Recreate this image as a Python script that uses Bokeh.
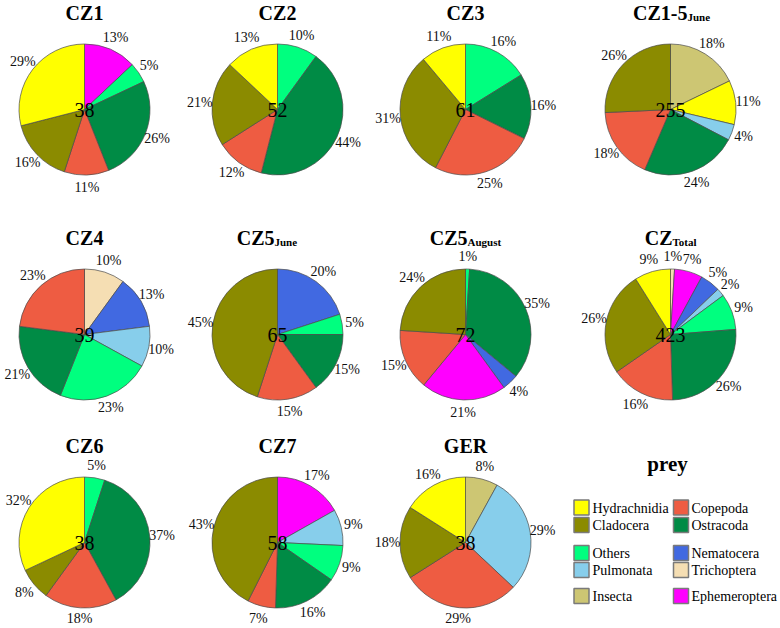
import math
from bokeh.plotting import figure
from bokeh.models import Range1d, ColumnDataSource
from bokeh.core.properties import value
from bokeh.embed import file_html
from bokeh.resources import INLINE

# ---------------- data ----------------
prey = ["Hydrachnidia", "Copepoda", "Cladocera", "Ostracoda", "Others",
        "Nematocera", "Pulmonata", "Trichoptera", "Insecta", "Ephemeroptera"]
prey_colors = ["#FFFF00", "#EE5C42", "#8B8B00", "#008B45", "#00FF7F",
               "#4169E1", "#87CEEB", "#F5DEB3", "#CDC673", "#FF00FF"]

# slices listed clockwise from 12 o'clock
cz1_prey = ["Ephemeroptera", "Others", "Ostracoda", "Copepoda", "Cladocera", "Hydrachnidia"]
cz1_pct = [13, 5, 26, 11, 16, 29]
cz2_prey = ["Others", "Ostracoda", "Copepoda", "Cladocera", "Hydrachnidia"]
cz2_pct = [10, 44, 12, 21, 13]
cz3_prey = ["Others", "Ostracoda", "Copepoda", "Cladocera", "Hydrachnidia"]
cz3_pct = [16, 16, 25, 31, 11]
cz15june_prey = ["Insecta", "Hydrachnidia", "Pulmonata", "Ostracoda", "Copepoda", "Cladocera"]
cz15june_pct = [18, 11, 4, 24, 18, 26]
cz4_prey = ["Trichoptera", "Nematocera", "Pulmonata", "Others", "Ostracoda", "Copepoda"]
cz4_pct = [10, 13, 10, 23, 21, 23]
cz5june_prey = ["Nematocera", "Others", "Ostracoda", "Copepoda", "Cladocera"]
cz5june_pct = [20, 5, 15, 15, 45]
cz5aug_prey = ["Others", "Ostracoda", "Nematocera", "Ephemeroptera", "Copepoda", "Cladocera"]
cz5aug_pct = [1, 35, 4, 21, 15, 24]
cztotal_prey = ["Trichoptera", "Ephemeroptera", "Nematocera", "Pulmonata", "Others",
                "Ostracoda", "Copepoda", "Cladocera", "Hydrachnidia"]
cztotal_pct = [1, 7, 5, 2, 9, 26, 16, 26, 9]
cz6_prey = ["Others", "Ostracoda", "Copepoda", "Cladocera", "Hydrachnidia"]
cz6_pct = [5, 37, 18, 8, 32]
cz7_prey = ["Ephemeroptera", "Pulmonata", "Others", "Ostracoda", "Copepoda", "Cladocera"]
cz7_pct = [17, 9, 9, 16, 7, 43]
ger_prey = ["Insecta", "Pulmonata", "Copepoda", "Cladocera", "Hydrachnidia"]
ger_pct = [8, 29, 29, 18, 16]

titles = ["CZ1", "CZ2", "CZ3", "CZ1-5", "CZ4", "CZ5", "CZ5", "CZ", "CZ6", "CZ7", "GER"]
subtitles = ["", "", "", "June", "", "June", "August", "Total", "", "", ""]
counts = [38, 52, 61, 255, 39, 65, 72, 423, 38, 58, 38]
panel_prey = [cz1_prey, cz2_prey, cz3_prey, cz15june_prey, cz4_prey, cz5june_prey,
              cz5aug_prey, cztotal_prey, cz6_prey, cz7_prey, ger_prey]
panel_pct = [cz1_pct, cz2_pct, cz3_pct, cz15june_pct, cz4_pct, cz5june_pct,
             cz5aug_pct, cztotal_pct, cz6_pct, cz7_pct, ger_pct]

legend_title = "prey"

# ---------------- layout ----------------
W, H = 780, 628
FONT = value("Liberation Serif")
col_x = [84, 277, 465, 670]
row_y = [109, 334, 542]
R = 65.5
LABEL_R = 78
sub_split = {3: 17, 5: -3, 6: 2, 7: 2}  # x offset of main/sub boundary from pie centre

p = figure(width=W, height=H, x_range=Range1d(0, W), y_range=Range1d(-H, 0),
           output_backend="svg", toolbar_location=None,
           x_axis_location=None, y_axis_location=None, min_border=0)
p.grid.visible = False
p.outline_line_color = None
p.background_fill_color = "white"
p.border_fill_color = "white"

color_of = dict(zip(prey, prey_colors))

wx, wy, ws, we, wc = [], [], [], [], []
lx, ly, lt = [], [], []
cx_l, cy_l, ct = [], [], []
tx, ty, tt = [], [], []
mx, my, mt, sx, sy, st = [], [], [], [], [], []

for i in range(len(titles)):
    cx = col_x[i % 4]
    cy = row_y[i // 4]
    vals = panel_pct[i]
    tot = float(sum(vals))
    c0 = 0.0
    for name, v in zip(panel_prey[i], vals):
        c1 = c0 + v / tot
        wx.append(cx)
        wy.append(-cy)
        ws.append(math.pi / 2 - 2 * math.pi * c0)
        we.append(math.pi / 2 - 2 * math.pi * c1)
        wc.append(color_of[name])
        mid = math.pi / 2 - 2 * math.pi * (c0 + c1) / 2
        x = cx + LABEL_R * math.cos(mid)
        x = min(max(x, 14), W - 14)
        y = -cy + LABEL_R * math.sin(mid)
        y = max(y, -(H - 10))
        lx.append(x)
        ly.append(y)
        lt.append(f"{v}%")
        c0 = c1
    cx_l.append(cx)
    cy_l.append(-cy)
    ct.append(str(counts[i]))
    tmid = -(cy - 96.5)
    if subtitles[i]:
        b = cx + sub_split[i]
        mx.append(b); my.append(tmid); mt.append(titles[i])
        sx.append(b); sy.append(tmid - 3.5); st.append(subtitles[i])
    else:
        tx.append(cx); ty.append(tmid); tt.append(titles[i])

p.wedge(x="x", y="y", radius=R, start_angle="s", end_angle="e", direction="clock",
        fill_color="c", line_color="#4a4a4a", line_width=0.7,
        source=ColumnDataSource(dict(x=wx, y=wy, s=ws, e=we, c=wc)))

p.text(x="x", y="y", text="t", source=ColumnDataSource(dict(x=lx, y=ly, t=lt)),
       text_font=FONT, text_font_size="14px", text_color="#111111",
       text_align="center", text_baseline="middle")

p.text(x="x", y="y", text="t", source=ColumnDataSource(dict(x=cx_l, y=cy_l, t=ct)),
       text_font=FONT, text_font_size="20px", text_color="black",
       text_align="center", text_baseline="middle")

p.text(x="x", y="y", text="t", source=ColumnDataSource(dict(x=tx, y=ty, t=tt)),
       text_font=FONT, text_font_size="20px", text_font_style="bold", text_color="black",
       text_align="center", text_baseline="middle")
p.text(x="x", y="y", text="t", source=ColumnDataSource(dict(x=mx, y=my, t=mt)),
       text_font=FONT, text_font_size="20px", text_font_style="bold", text_color="black",
       text_align="right", text_baseline="middle")
p.text(x="x", y="y", text="t", source=ColumnDataSource(dict(x=sx, y=sy, t=st)),
       text_font=FONT, text_font_size="11px", text_font_style="bold", text_color="black",
       text_align="left", text_baseline="middle")

# ---------------- legend ----------------
leg_col_box = [581, 680.5]
leg_col_txt = [592, 691]
leg_rows = [507, 524.5, 552.5, 569.5, 595.5]
bx, by, bc, ltx, lty, ltt = [], [], [], [], [], []
for k, (name, col) in enumerate(zip(prey, prey_colors)):
    r, c = k // 2, k % 2
    bx.append(leg_col_box[c]); by.append(-leg_rows[r]); bc.append(col)
    ltx.append(leg_col_txt[c]); lty.append(-leg_rows[r] - 0.5); ltt.append(name)
p.rect(x="x", y="y", width=15, height=15, fill_color="c", line_color="#7a7a7a", line_width=1.5,
       source=ColumnDataSource(dict(x=bx, y=by, c=bc)))
p.text(x="x", y="y", text="t", source=ColumnDataSource(dict(x=ltx, y=lty, t=ltt)),
       text_font=FONT, text_font_size="14px", text_color="black",
       text_align="left", text_baseline="middle")
p.text(x=[667], y=[-463], text=[legend_title], text_font=FONT, text_font_size="21px",
       text_font_style="bold", text_color="black", text_align="center", text_baseline="middle")

open("out.html", "w").write(file_html(p, INLINE))
